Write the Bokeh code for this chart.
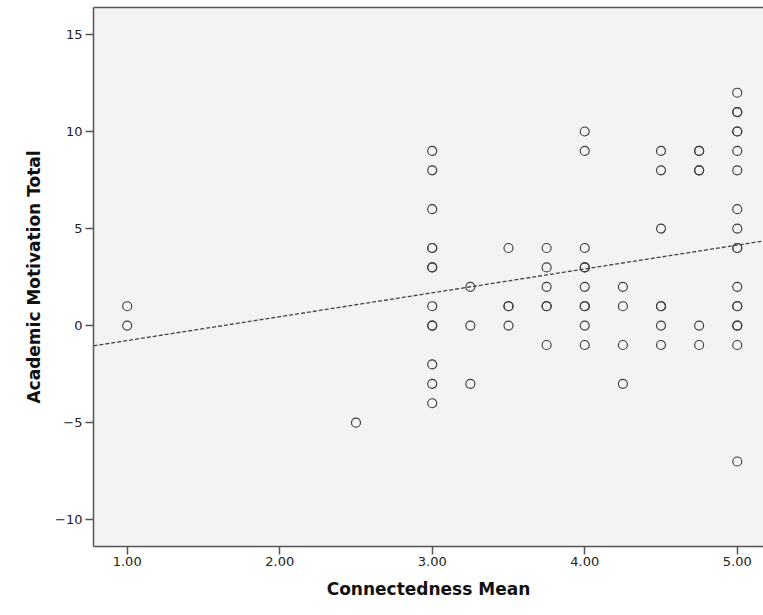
from bokeh.plotting import figure
from bokeh.models import LinearAxis, FixedTicker, Range1d, CustomJSTickFormatter
from bokeh.embed import file_html
from bokeh.resources import INLINE

# ---- data ----
connectedness = (
    [1.0] * 2 + [2.5] * 1 + [3.0] * 13 + [3.25] * 3 + [3.5] * 4 + [3.75] * 6
    + [4.0] * 10 + [4.25] * 4 + [4.5] * 7 + [4.75] * 6 + [5.0] * 18
)
motivation = (
    [1, 0]
    + [-5]
    + [9, 8, 6, 4, 4, 3, 3, 1, 0, 0, -2, -3, -4]
    + [2, 0, -3]
    + [4, 1, 1, 0]
    + [4, 3, 2, 1, 1, -1]
    + [10, 9, 4, 3, 3, 2, 1, 1, 0, -1]
    + [2, 1, -1, -3]
    + [9, 8, 5, 1, 1, 0, -1]
    + [9, 9, 8, 8, 0, -1]
    + [12, 11, 11, 10, 10, 9, 8, 6, 5, 4, 4, 2, 1, 1, 0, 0, -1, -7]
)
# fit line shown in the reference (linear: y = intercept + slope * x)
fit_intercept = -2.0
fit_slope = 1.23

x_ticks = [1.0, 2.0, 3.0, 4.0, 5.0]
y_ticks = [-10, -5, 0, 5, 10, 15]
x_title = "Connectedness Mean"
y_title = "Academic Motivation Total"

x_lo, x_hi = 0.779, 5.172
y_lo, y_hi = -11.38, 16.39

p = figure(width=763, height=615, output_backend="svg", toolbar_location=None,
           x_range=Range1d(x_lo, x_hi), y_range=Range1d(y_lo, y_hi),
           x_axis_location=None, y_axis_location=None,
           min_border_left=93, min_border_right=0, min_border_top=7,
           min_border_bottom=69)
p.background_fill_color = "#f3f3f3"
p.border_fill_color = "white"
p.outline_line_color = None
p.xgrid.visible = False
p.ygrid.visible = False

p.line([x_lo, x_hi],
       [fit_intercept + fit_slope * x_lo, fit_intercept + fit_slope * x_hi],
       line_color="#444444", line_width=1.3, line_dash="4 2")

p.scatter(connectedness, motivation, marker="circle", size=9,
          fill_color=None, line_color="#3c3c3c", line_width=1.15)

axis_color = "#555555"
tick_font = "DejaVu Sans"
title_font = "DejaVu Sans"

xa = LinearAxis(ticker=FixedTicker(ticks=x_ticks),
                formatter=CustomJSTickFormatter(code="return tick.toFixed(2);"))
xa.axis_label = x_title
ya = LinearAxis(ticker=FixedTicker(ticks=y_ticks))
ya.axis_label = y_title
for a in (xa, ya):
    a.axis_line_color = axis_color
    a.axis_line_width = 1.5
    a.major_tick_line_color = axis_color
    a.major_tick_line_width = 1.5
    a.major_tick_out = 8
    a.major_tick_in = 0
    a.minor_tick_line_color = None
    a.major_label_text_font = tick_font
    a.major_label_text_font_size = "13px"
    a.major_label_text_color = "#222222"
    a.axis_label_text_font = title_font
    a.axis_label_text_font_style = "bold"
    a.axis_label_text_font_size = "17px"
    a.axis_label_text_color = "#111111"
xa.major_label_standoff = 2
xa.axis_label_standoff = 10
ya.major_label_standoff = 3
ya.axis_label_standoff = 8
p.add_layout(xa, "below")
p.add_layout(ya, "left")

top = LinearAxis(ticker=FixedTicker(ticks=[]), major_label_text_font_size="0px")
top.axis_line_color = axis_color
top.axis_line_width = 1.5
top.minor_tick_line_color = None
top.major_tick_line_color = None
p.add_layout(top, "above")

open("out.html", "w").write(file_html(p, INLINE))
